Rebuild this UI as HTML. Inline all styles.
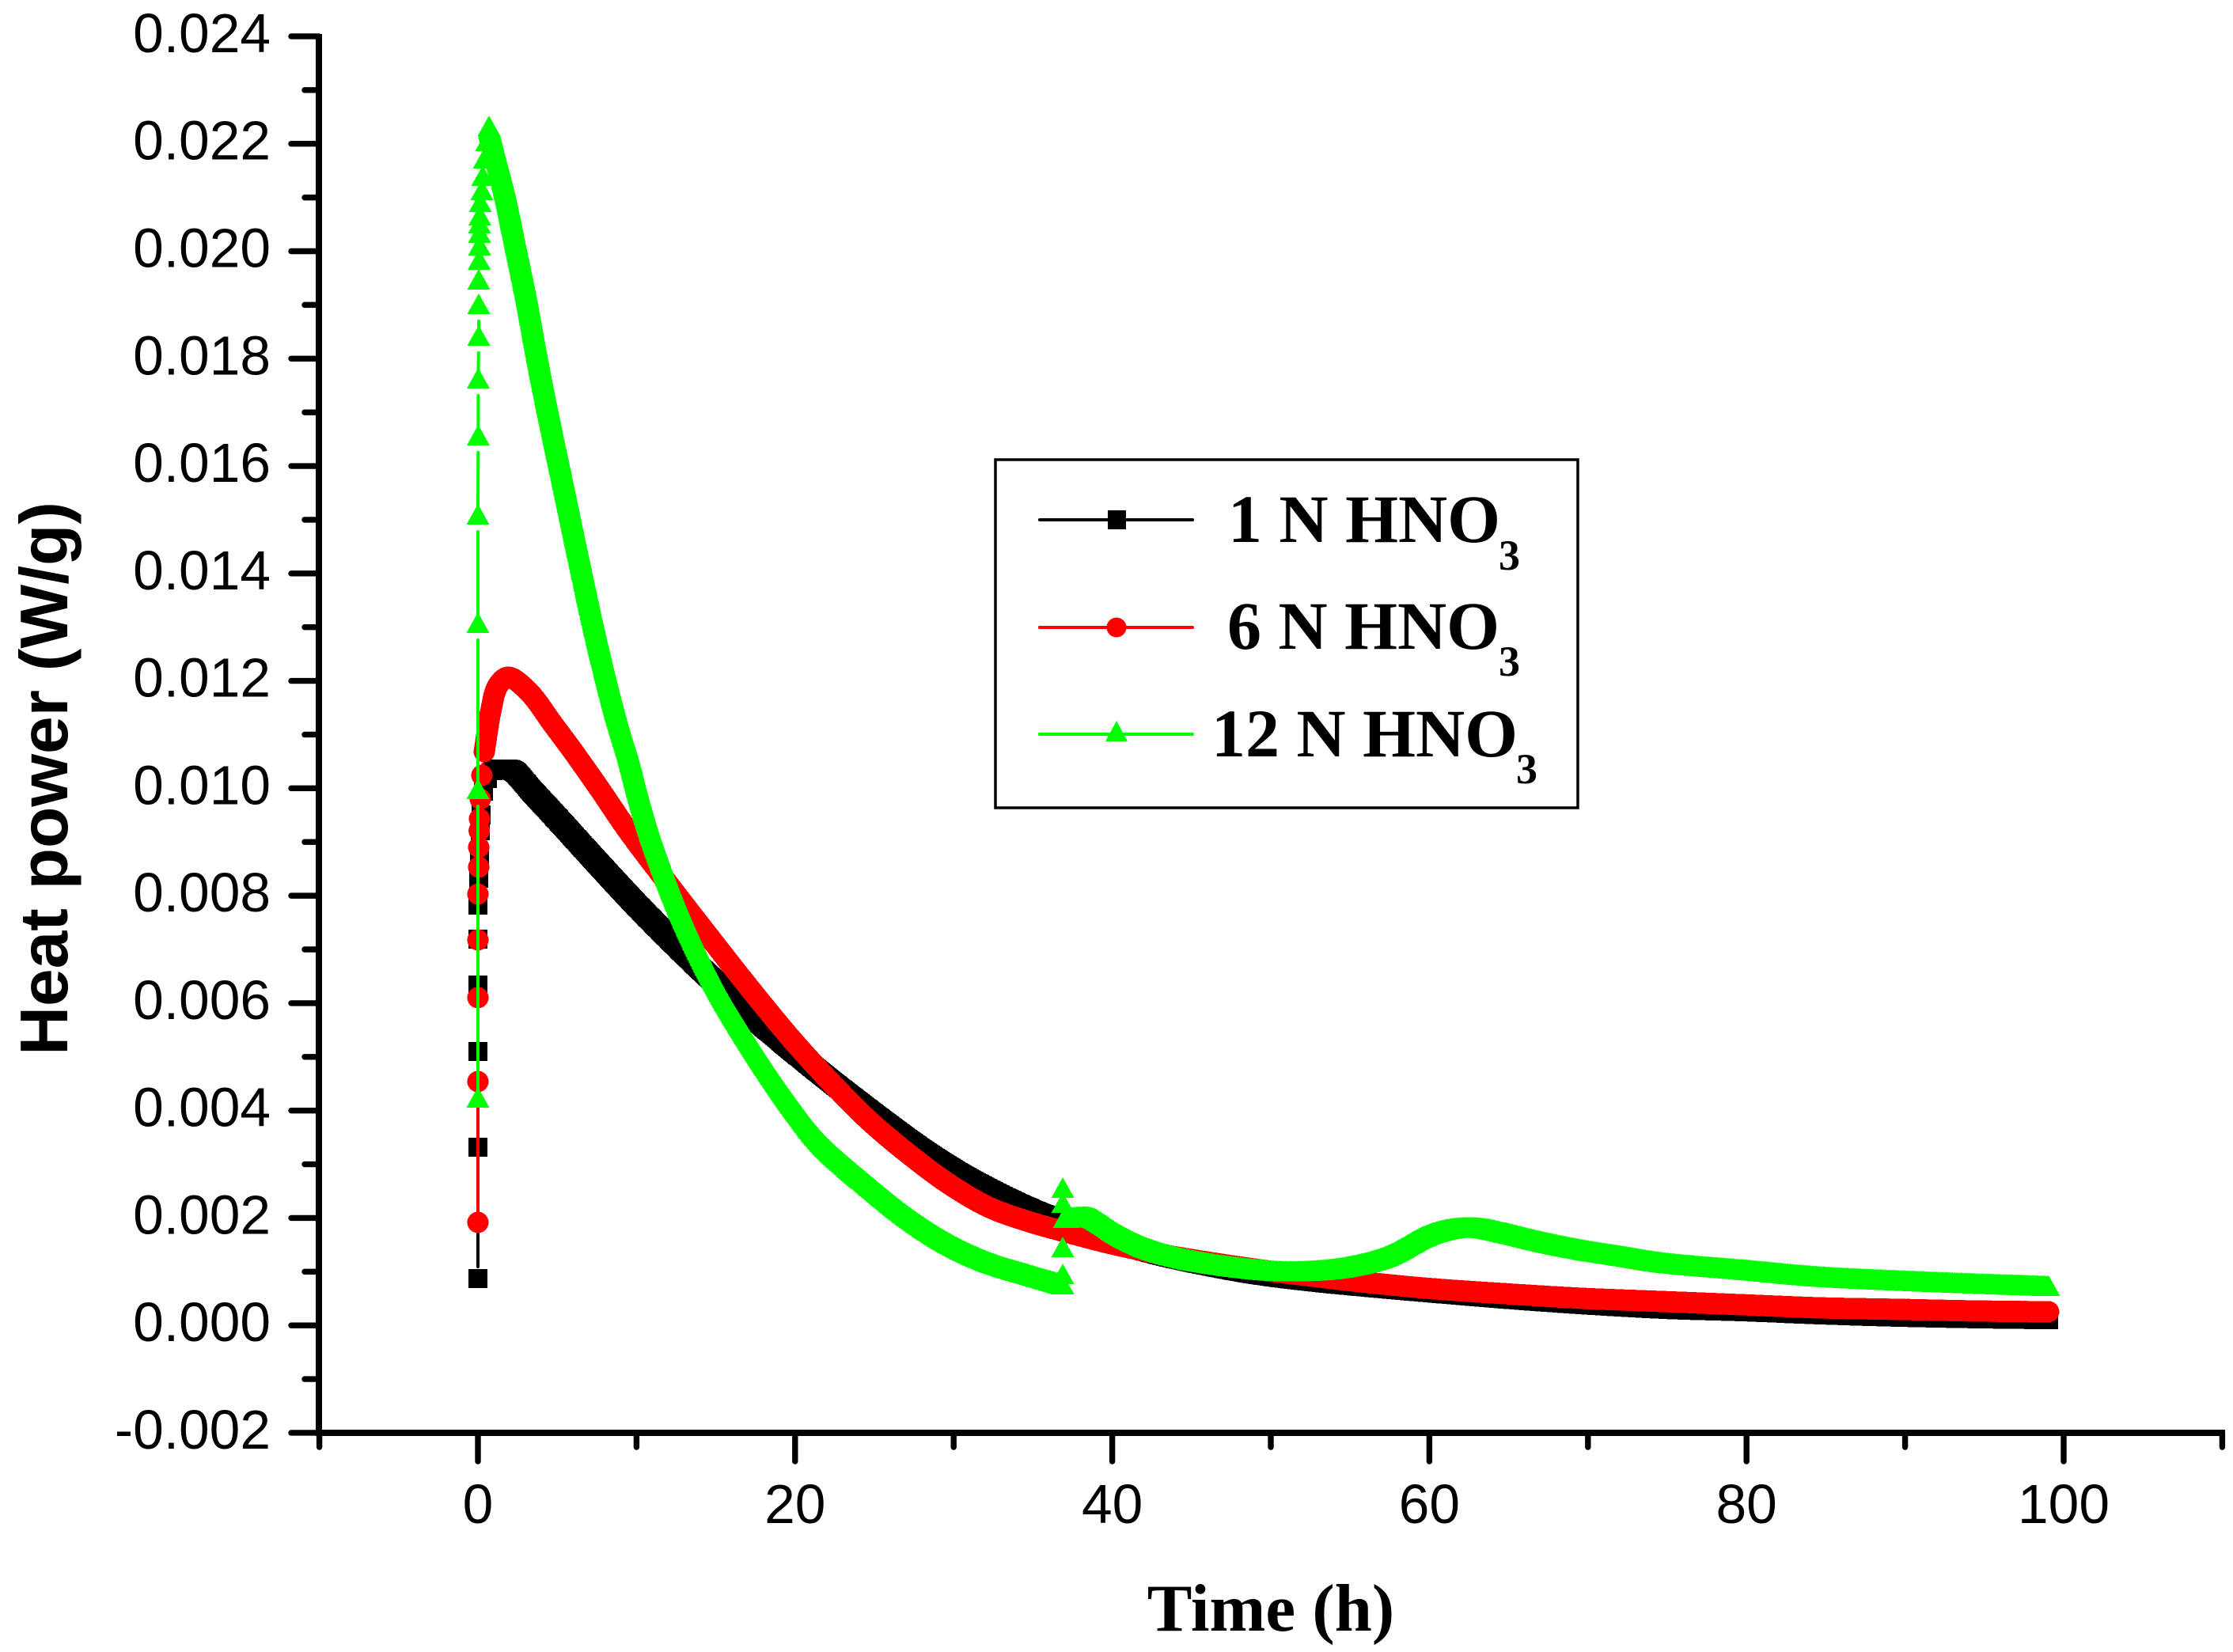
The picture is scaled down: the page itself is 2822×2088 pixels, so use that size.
<!DOCTYPE html>
<html lang="en">
<head>
<meta charset="utf-8">
<title>Heat power vs time</title>
<style>
  html, body { margin: 0; padding: 0; background: #fff; }
  svg { display: block; }
  .tick-label { font-family: "Liberation Sans", sans-serif; font-size: 69.5px; fill: #000; }
  .legend-text { font-family: "Liberation Serif", serif; font-weight: bold; font-size: 86px; fill: #000; }
  .legend-sub { font-family: "Liberation Serif", serif; font-weight: bold; font-size: 54px; fill: #000; }
</style>
</head>
<body>
<svg id="chart" xmlns="http://www.w3.org/2000/svg" width="2822" height="2088" viewBox="0 0 2822 2088">
  <rect x="0" y="0" width="2822" height="2088" fill="#fff"/>
  <g id="series-layer"></g>
  <g id="axis-layer"></g>
  <text x="1606" y="2061" text-anchor="middle" font-family="'Liberation Serif', serif" font-weight="bold" font-size="85">Time (h)</text>
  <text transform="translate(85 984) rotate(-90)" text-anchor="middle" font-family="'Liberation Sans', sans-serif" font-weight="bold" font-size="85.7">Heat power (W/g)</text>

  <g>
    <rect x="1258" y="581" width="736" height="440" fill="#fff" stroke="#000" stroke-width="3.5"/>

    <g>
      <path d="M1314 657H1399M1424 657H1507" stroke="#000" stroke-width="4" stroke-linecap="round" fill="none"/>
      <rect x="1400" y="645" width="23" height="24" fill="#000"/>
      <text class="legend-text" x="1552" y="685">1 N HNO<tspan class="legend-sub" x="1894" y="720">3</tspan></text>
    </g>

    <g>
      <path d="M1314 793H1507" stroke="#f00" stroke-width="4" stroke-linecap="round" fill="none"/>
      <ellipse cx="1411" cy="793" rx="12.5" ry="12.5" fill="#f00"/>
      <text class="legend-text" x="1551" y="820">6 N HNO<tspan class="legend-sub" x="1894" y="854">3</tspan></text>
    </g>

    <g>
      <path d="M1314 928H1507" stroke="#0f0" stroke-width="4" stroke-linecap="round" fill="none"/>
      <polygon points="1411,911 1425,937 1397,937" fill="#0f0"/>
      <text class="legend-text" x="1531" y="956">12 N HNO<tspan class="legend-sub" x="1916" y="990">3</tspan></text>
    </g>
  </g>
</svg>

<script>
// Axis ticks
const xMajorTicks = [0, 20, 40, 60, 80, 100];
const xMinorTicks = [-10, 10, 30, 50, 70, 90, 110];
const yMajorTicks = [-0.002, 0, 0.002, 0.004, 0.006, 0.008, 0.010, 0.012, 0.014, 0.016, 0.018, 0.020, 0.022, 0.024];
const yMinorTicks = [-0.001, 0.001, 0.003, 0.005, 0.007, 0.009, 0.011, 0.013, 0.015, 0.017, 0.019, 0.021, 0.023];

// 1 N HNO3
const blackRiseT = [0, 0, 0, 0, 0, 0, 0.05, 0.10, 0.15, 0.20, 0.35, 0.60];
const blackRiseV = [0.000872, 0.003317, 0.005100, 0.006337, 0.007192, 0.007825, 0.008326, 0.008768, 0.009210, 0.009505, 0.009946, 0.010182];
const blackBandT = [0.95, 1.55, 2.20, 3.44, 4.79, 7.29, 9.78, 12.28, 14.77, 17.27, 21.41, 24.15, 25.80, 27.50, 29.14, 30.79, 32.48, 34.13, 35.63, 39.72, 42.81, 48.65, 52.79, 55.29, 60.28, 67.76, 75.25, 80.24, 85.23, 90.22, 95.21, 99.05];
const blackBandV = [0.010330, 0.010359, 0.010330, 0.009932, 0.009505, 0.008694, 0.007899, 0.007148, 0.006440, 0.005763, 0.004746, 0.004113, 0.003745, 0.003376, 0.003052, 0.002758, 0.002493, 0.002257, 0.002068, 0.001609, 0.001329, 0.000975, 0.000813, 0.000739, 0.000607, 0.000430, 0.000298, 0.000253, 0.000194, 0.000150, 0.000121, 0.000106];

// 6 N HNO3
const redRiseT = [0, 0, 0, 0, 0, 0.05, 0.05, 0.08, 0.10, 0.15, 0.25, 0.40, 0.80, 1.25];
const redRiseV = [0.001918, 0.004540, 0.006102, 0.007177, 0.008031, 0.008532, 0.008901, 0.009210, 0.009431, 0.009799, 0.010241, 0.010683, 0.011420, 0.011906];
const redBandT = [0.40, 0.80, 1.25, 1.90, 3.14, 4.79, 5.94, 7.63, 9.43, 12.03, 14.62, 17.17, 19.76, 22.26, 24.75, 27.25, 29.74, 32.24, 34.73, 37.23, 39.72, 42.22, 44.71, 49.70, 52.20, 54.69, 59.68, 64.67, 69.66, 74.65, 79.64, 84.63, 89.62, 94.61, 99.05];
const redBandV = [0.010683, 0.011420, 0.011906, 0.012068, 0.011817, 0.011169, 0.010713, 0.010005, 0.009225, 0.008208, 0.007221, 0.006264, 0.005336, 0.004525, 0.003789, 0.003170, 0.002625, 0.002198, 0.001933, 0.001726, 0.001535, 0.001373, 0.001240, 0.001019, 0.000931, 0.000843, 0.000695, 0.000592, 0.000504, 0.000445, 0.000386, 0.000327, 0.000298, 0.000268, 0.000253];

// 12 N HNO3
const greenRiseT = [0, 0, 0, 0, 0.02, 0.02, 0.05, 0.05, 0.05, 0.08, 0.10, 0.10, 0.10, 0.12, 0.15, 0.25, 0.30, 0.40, 0.55];
const greenRiseV = [0.004246, 0.009991, 0.013084, 0.015102, 0.016576, 0.017636, 0.018432, 0.019021, 0.019477, 0.019846, 0.020111, 0.020347, 0.020523, 0.020671, 0.020921, 0.021142, 0.021407, 0.021731, 0.022055];
const greenDecayT = [0.70, 1.00, 1.65, 2.35, 3.04, 3.64, 4.29, 5.34, 6.39, 7.48, 8.73, 9.48, 10.13, 10.88, 12.77, 15.17, 18.16, 20.11, 21.81, 24.90, 27.37, 29.82, 32.29, 34.78, 36.38, 36.88];
const greenDecayV = [0.022335, 0.021982, 0.021245, 0.020258, 0.019271, 0.018299, 0.017312, 0.015839, 0.014366, 0.012893, 0.011420, 0.010683, 0.009946, 0.009210, 0.007737, 0.006278, 0.004835, 0.004002, 0.003369, 0.002566, 0.001984, 0.001520, 0.001181, 0.000953, 0.000813, 0.000769];
const greenJumpT = [36.88, 36.88, 36.88, 36.88];
const greenJumpV = [0.000960, 0.001461, 0.002286, 0.002566];
const greenTailT = [36.98, 38.62, 39.47, 40.37, 42.22, 44.71, 49.70, 52.20, 54.69, 57.19, 59.68, 60.93, 62.18, 63.42, 64.67, 67.17, 69.66, 72.16, 74.65, 77.15, 79.64, 84.63, 89.62, 94.61, 99.05];
const greenTailV = [0.002006, 0.002021, 0.001889, 0.001712, 0.001447, 0.001240, 0.001034, 0.001019, 0.001093, 0.001285, 0.001668, 0.001785, 0.001830, 0.001815, 0.001741, 0.001564, 0.001417, 0.001299, 0.001181, 0.001108, 0.001049, 0.000916, 0.000843, 0.000784, 0.000739];

const NS = 'http://www.w3.org/2000/svg';
const xScale = function (t) { return 604 + 20.04 * t; };
const yScale = function (v) { return 1675.2 - 67885 * v; };
const fmtY = function (v) { return v.toFixed(3); };

const axisLayer = document.getElementById('axis-layer');
const seriesLayer = document.getElementById('series-layer');

function makeSvg(tag, attrs) {
  const el = document.createElementNS(NS, tag);
  Object.keys(attrs).forEach(function (k) { el.setAttribute(k, attrs[k]); });
  return el;
}

function tickLine(x1, y1, x2, y2) {
  return makeSvg('line', { x1: x1, y1: y1, x2: x2, y2: y2, stroke: '#000', 'stroke-width': 7.4, 'stroke-linecap': 'round' });
}

function xAxisY() { return yScale(-0.002); }

// Axis lines
const yAxisLine = makeSvg('line', { x1: 403, y1: 43, x2: 403, y2: 1815, stroke: '#000', 'stroke-width': 8 });


axisLayer.appendChild(yAxisLine);

const xAxisLine = makeSvg('line', { x1: 399, y1: xAxisY(), x2: 2812, y2: xAxisY(), stroke: '#000', 'stroke-width': 8 });


axisLayer.appendChild(xAxisLine);

// X ticks
xMajorTicks.forEach(function (t) {
  const tick = tickLine(xScale(t), xAxisY(), xScale(t), 1847);
  
  
  axisLayer.appendChild(tick);
  const label = makeSvg('text', { x: xScale(t), y: 1925, 'text-anchor': 'middle', class: 'tick-label' });
  label.textContent = String(t);
  
  
  axisLayer.appendChild(label);
});
xMinorTicks.forEach(function (t) {
  const tick = tickLine(xScale(t), xAxisY(), xScale(t), 1829);
  
  
  axisLayer.appendChild(tick);
});

// Y ticks
yMajorTicks.forEach(function (v) {
  const tick = tickLine(368, yScale(v), 403, yScale(v));
  
  
  axisLayer.appendChild(tick);
  const label = makeSvg('text', { x: 342, y: yScale(v) + 20, 'text-anchor': 'end', class: 'tick-label' });
  label.textContent = fmtY(v);
  
  
  axisLayer.appendChild(label);
});
yMinorTicks.forEach(function (v) {
  const tick = tickLine(385, yScale(v), 403, yScale(v));
  
  
  axisLayer.appendChild(tick);
});

// Marker outlines
function markerPath(kind, cx, cy) {
  if (kind === 'square') {
    return 'M' + (cx - 12) + ' ' + (cy - 12) + 'h24v24h-24z';
  }
  if (kind === 'circle') {
    return 'M' + (cx - 13.5) + ' ' + cy + 'a13.5 13.5 0 1 0 27 0a13.5 13.5 0 1 0 -27 0z';
  }
  return 'M' + cx + ' ' + (cy - 13) + 'L' + (cx + 14.5) + ' ' + (cy + 13) + 'L' + (cx - 14.5) + ' ' + (cy + 13) + 'z';
}

// Centripetal Catmull-Rom position between p1 and p2
function splineAt(p0, p1, p2, p3, f) {
  const knot = function (a, b) { return Math.sqrt(Math.hypot(b[0] - a[0], b[1] - a[1])) || 1e-6; };
  const t0 = 0;
  const t1 = t0 + knot(p0, p1);
  const t2 = t1 + knot(p1, p2);
  const t3 = t2 + knot(p2, p3);
  const t = t1 + (t2 - t1) * f;
  const lerp = function (a, b, ta, tb) {
    const w = (t - ta) / (tb - ta);
    return [a[0] + (b[0] - a[0]) * w, a[1] + (b[1] - a[1]) * w];
  };
  const a1 = lerp(p0, p1, t0, t1);
  const a2 = lerp(p1, p2, t1, t2);
  const a3 = lerp(p2, p3, t2, t3);
  const b1 = lerp(a1, a2, t0, t2);
  const b2 = lerp(a2, a3, t1, t3);
  return lerp(b1, b2, t1, t2);
}

// Band = the marker shape swept along a smooth curve through the data points
function sweptPath(kind, times, values) {
  const pts = times.map(function (t, i) { return [xScale(t), yScale(values[i])]; });
  let d = '';
  pts.forEach(function (p1, i) {
    d += markerPath(kind, +p1[0].toFixed(1), +p1[1].toFixed(1));
    if (i + 1 >= pts.length) { return; }
    const p2 = pts[i + 1];
    const p0 = i > 0 ? pts[i - 1] : [2 * p1[0] - p2[0], 2 * p1[1] - p2[1]];
    const p3 = i + 2 < pts.length ? pts[i + 2] : [2 * p2[0] - p1[0], 2 * p2[1] - p1[1]];
    const n = Math.max(1, Math.ceil(Math.hypot(p2[0] - p1[0], p2[1] - p1[1]) / 1.5));
    for (let k = 1; k < n; k++) {
      const q = splineAt(p0, p1, p2, p3, k / n);
      d += markerPath(kind, +q[0].toFixed(1), +q[1].toFixed(1));
    }
  });
  return d;
}

// Thin connector with a gap next to each symbol
function connectorPath(times, values, gapAbove, gapBelow) {
  let d = '';
  for (let i = 0; i + 1 < times.length; i++) {
    const x0 = xScale(times[i]);
    const y0 = yScale(values[i]);
    const x1 = xScale(times[i + 1]);
    const y1 = yScale(values[i + 1]);
    const len = Math.hypot(x1 - x0, y1 - y0);
    if (len <= gapAbove + gapBelow) { continue; }
    const a = gapAbove / len;
    const b = gapBelow / len;
    d += 'M' + (x0 + (x1 - x0) * a).toFixed(1) + ' ' + (y0 + (y1 - y0) * a).toFixed(1);
    d += 'L' + (x1 - (x1 - x0) * b).toFixed(1) + ' ' + (y1 - (y1 - y0) * b).toFixed(1);
  }
  return d;
}

function addConnector(group, color, times, values, gapAbove, gapBelow) {
  const line = makeSvg('path', { d: connectorPath(times, values, gapAbove, gapBelow), fill: 'none', stroke: color, 'stroke-width': 4, 'stroke-linecap': 'round' });
  
  
  group.appendChild(line);
}

function addMarkers(group, color, kind, times, values) {
  times.forEach(function (t, i) {
    const m = makeSvg('path', { d: markerPath(kind, xScale(t), yScale(values[i])), fill: color, 'shape-rendering': 'crispEdges' });
    
    
    group.appendChild(m);
  });
}

function addBand(group, color, kind, times, values) {
  const band = makeSvg('path', { d: sweptPath(kind, times, values), fill: color, 'fill-rule': 'nonzero', 'shape-rendering': 'crispEdges' });
  
  
  group.appendChild(band);
}

// 1 N series
const blackGroup = makeSvg('g', {});


seriesLayer.appendChild(blackGroup);
addConnector(blackGroup, '#000', blackRiseT, blackRiseV, 15, 16);
addMarkers(blackGroup, '#000', 'square', blackRiseT, blackRiseV);
addBand(blackGroup, '#000', 'square', blackBandT, blackBandV);

// 6 N series
const redGroup = makeSvg('g', {});


seriesLayer.appendChild(redGroup);
addConnector(redGroup, '#f00', redRiseT, redRiseV, 14, 16);
addMarkers(redGroup, '#f00', 'circle', redRiseT, redRiseV);
addBand(redGroup, '#f00', 'circle', redBandT, redBandV);

// 12 N series
const greenGroup = makeSvg('g', {});


seriesLayer.appendChild(greenGroup);
addConnector(greenGroup, '#0f0', greenRiseT, greenRiseV, 11, 22);
addMarkers(greenGroup, '#0f0', 'triangle', greenRiseT, greenRiseV);
addBand(greenGroup, '#0f0', 'triangle', greenDecayT, greenDecayV);
addMarkers(greenGroup, '#0f0', 'triangle', greenJumpT, greenJumpV);
addBand(greenGroup, '#0f0', 'triangle', greenTailT, greenTailV);
</script>
</body>
</html>
